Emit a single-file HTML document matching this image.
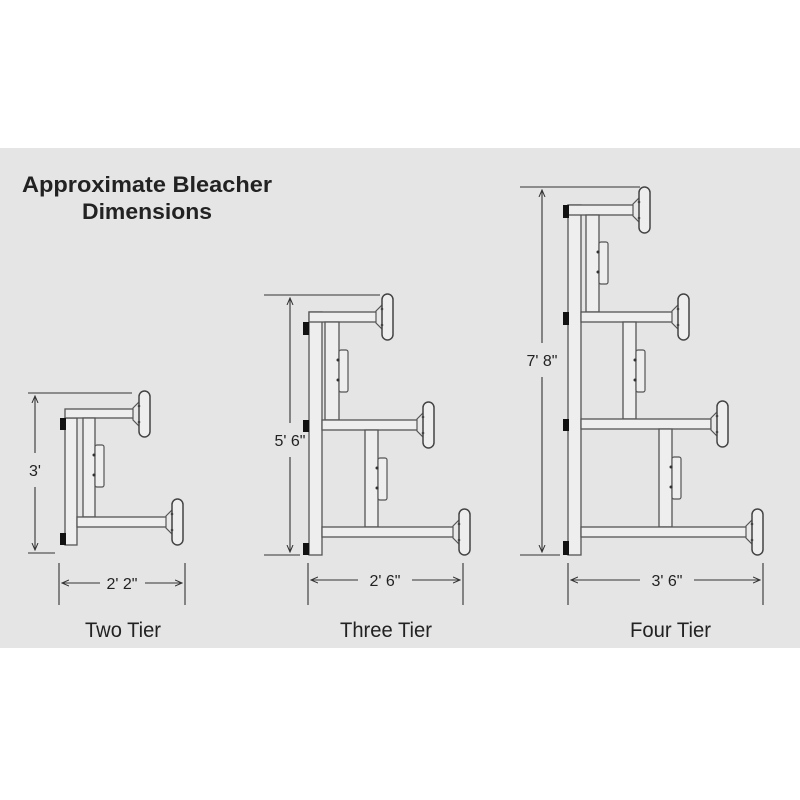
<!DOCTYPE html>
<html><head><meta charset="utf-8"><style>
html,body{margin:0;padding:0;background:#fff;}
svg{display:block;}
text{font-family:"Liberation Sans",sans-serif;fill:#222;}
</style></head><body>
<svg width="800" height="800" viewBox="0 0 800 800" xmlns="http://www.w3.org/2000/svg">
<defs>
<g id="seat">
<polygon points="0,-6 9,-15 9,15 0,6" fill="#e8e8e8" stroke="#555" stroke-width="1.2"/>
<rect x="6" y="-23" width="11" height="46" rx="5.5" fill="#eee" stroke="#444" stroke-width="1.5"/>
<circle cx="6" cy="-8" r="1.3" fill="#444"/><circle cx="6" cy="8" r="1.3" fill="#444"/>
</g>
<g id="box">
<rect x="0" y="0" width="9" height="42" rx="2" fill="#eee" stroke="#555" stroke-width="1.2"/>
<circle cx="-1" cy="10" r="1.5" fill="#333"/><circle cx="-1" cy="30" r="1.5" fill="#333"/>
</g>
<marker id="ah" markerWidth="8" markerHeight="8" refX="7" refY="4" orient="auto" markerUnits="userSpaceOnUse"><path d="M0,1 L7,4 L0,7" fill="none" stroke="#333" stroke-width="1"/></marker>
</defs>
<rect x="0" y="148" width="800" height="500" fill="#e5e5e5"/>
<text x="22" y="192" font-size="22" font-weight="bold" textLength="250" lengthAdjust="spacingAndGlyphs">Approximate Bleacher</text>
<text x="82" y="219" font-size="22" font-weight="bold" textLength="130" lengthAdjust="spacingAndGlyphs">Dimensions</text>

<g stroke="#555" stroke-width="1.3" fill="#eee">
<rect x="65" y="418" width="12" height="127"/>
<rect x="65" y="409" width="70" height="9"/>
<rect x="83" y="418" width="12" height="99"/>
<rect x="77" y="517" width="90" height="10"/>
</g>
<use href="#box" x="95" y="445"/>
<use href="#seat" x="133" y="414"/>
<use href="#seat" x="166" y="522"/>
<rect x="60" y="418" width="6" height="12" fill="#111"/>
<rect x="60" y="533" width="6" height="12" fill="#111"/>

<g stroke="#555" stroke-width="1.3" fill="#eee">
<rect x="309" y="312" width="13" height="243"/>
<rect x="309" y="312" width="70" height="10"/>
<rect x="325" y="322" width="14" height="98"/>
<rect x="322" y="420" width="97" height="10"/>
<rect x="365" y="430" width="13" height="97"/>
<rect x="322" y="527" width="133" height="10"/>
</g>
<use href="#box" x="339" y="350"/>
<use href="#box" x="378" y="458"/>
<use href="#seat" x="376" y="317"/>
<use href="#seat" x="417" y="425"/>
<use href="#seat" x="453" y="532"/>
<rect x="303" y="322" width="6" height="13" fill="#111"/>
<rect x="303" y="420" width="6" height="12" fill="#111"/>
<rect x="303" y="543" width="6" height="12" fill="#111"/>

<g stroke="#555" stroke-width="1.3" fill="#eee">
<rect x="568" y="205" width="13" height="350"/>
<rect x="568" y="205" width="66" height="10"/>
<rect x="586" y="215" width="13" height="97"/>
<rect x="581" y="312" width="92" height="10"/>
<rect x="623" y="322" width="13" height="97"/>
<rect x="581" y="419" width="130" height="10"/>
<rect x="659" y="429" width="13" height="98"/>
<rect x="581" y="527" width="166" height="10"/>
</g>
<use href="#box" x="599" y="242"/>
<use href="#box" x="636" y="350"/>
<use href="#box" x="672" y="457"/>
<use href="#seat" x="633" y="210"/>
<use href="#seat" x="672" y="317"/>
<use href="#seat" x="711" y="424"/>
<use href="#seat" x="746" y="532"/>
<rect x="563" y="205" width="6" height="13" fill="#111"/>
<rect x="563" y="312" width="6" height="13" fill="#111"/>
<rect x="563" y="419" width="6" height="12" fill="#111"/>
<rect x="563" y="541" width="6" height="14" fill="#111"/>

<g stroke="#333" stroke-width="1.1" fill="none">
<line x1="28" y1="393" x2="132" y2="393"/>
<line x1="28" y1="553" x2="55" y2="553"/>
<line x1="35" y1="453" x2="35" y2="396" marker-end="url(#ah)"/>
<line x1="35" y1="487" x2="35" y2="550" marker-end="url(#ah)"/>
<line x1="59" y1="563" x2="59" y2="605"/>
<line x1="185" y1="563" x2="185" y2="605"/>
<line x1="100" y1="583" x2="62" y2="583" marker-end="url(#ah)"/>
<line x1="145" y1="583" x2="182" y2="583" marker-end="url(#ah)"/>

<line x1="264" y1="295" x2="380" y2="295"/>
<line x1="264" y1="555" x2="300" y2="555"/>
<line x1="290" y1="423" x2="290" y2="298" marker-end="url(#ah)"/>
<line x1="290" y1="457" x2="290" y2="552" marker-end="url(#ah)"/>
<line x1="308" y1="563" x2="308" y2="605"/>
<line x1="463" y1="563" x2="463" y2="605"/>
<line x1="358" y1="580" x2="311" y2="580" marker-end="url(#ah)"/>
<line x1="412" y1="580" x2="460" y2="580" marker-end="url(#ah)"/>

<line x1="520" y1="187" x2="640" y2="187"/>
<line x1="520" y1="555" x2="560" y2="555"/>
<line x1="542" y1="343" x2="542" y2="190" marker-end="url(#ah)"/>
<line x1="542" y1="377" x2="542" y2="552" marker-end="url(#ah)"/>
<line x1="568" y1="563" x2="568" y2="605"/>
<line x1="763" y1="563" x2="763" y2="605"/>
<line x1="640" y1="580" x2="571" y2="580" marker-end="url(#ah)"/>
<line x1="694" y1="580" x2="760" y2="580" marker-end="url(#ah)"/>
</g>
<g font-size="16">
<text x="35" y="476" text-anchor="middle">3'</text>
<text x="122" y="589" text-anchor="middle">2' 2"</text>
<text x="290" y="446" text-anchor="middle">5' 6"</text>
<text x="385" y="586" text-anchor="middle">2' 6"</text>
<text x="542" y="366" text-anchor="middle">7' 8"</text>
<text x="667" y="586" text-anchor="middle">3' 6"</text>
</g>
<g font-size="21">
<text x="85" y="637" textLength="76" lengthAdjust="spacingAndGlyphs">Two Tier</text>
<text x="340" y="637" textLength="92" lengthAdjust="spacingAndGlyphs">Three Tier</text>
<text x="630" y="637" textLength="81" lengthAdjust="spacingAndGlyphs">Four Tier</text>
</g>
</svg>
</body></html>
